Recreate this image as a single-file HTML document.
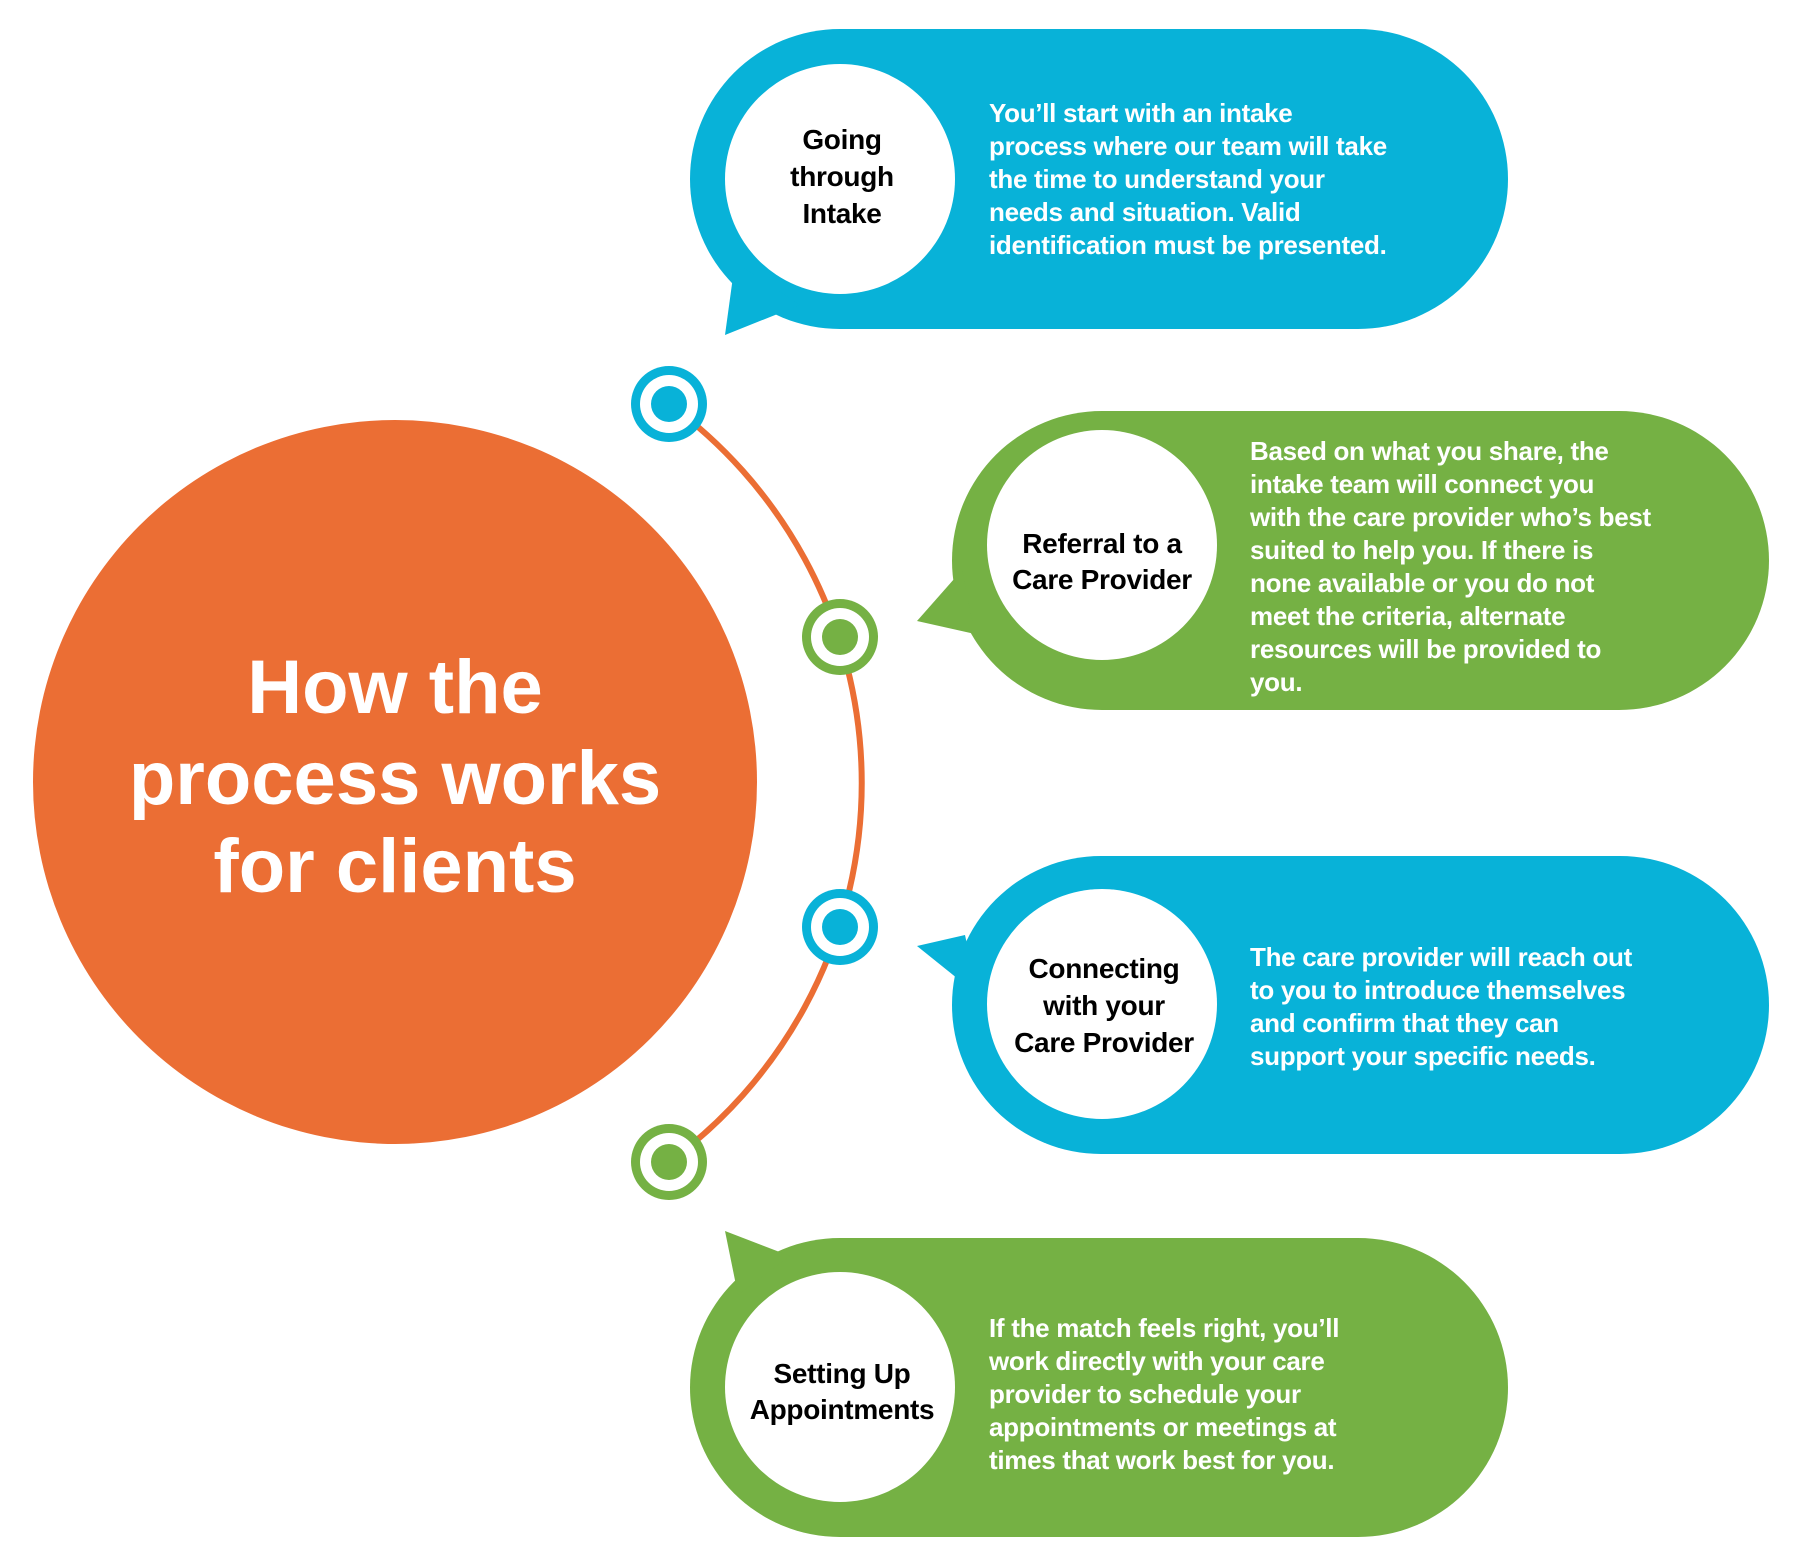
<!DOCTYPE html>
<html><head><meta charset="utf-8"><style>
html,body{margin:0;padding:0;background:#fff}
svg{display:block}
text{font-family:"Liberation Sans",Arial,sans-serif;font-weight:bold}
.d{fill:#fff;font-size:26px;letter-spacing:-0.3px}
.l{fill:#000;font-size:28px;text-anchor:middle;letter-spacing:-0.3px}
</style></head><body>
<svg width="1800" height="1559" viewBox="0 0 1800 1559" xmlns="http://www.w3.org/2000/svg">
<!-- big circle -->
<circle cx="395" cy="782" r="362" fill="#EB6E34"/>
<text x="395" y="713" fill="#fff" font-size="76" text-anchor="middle">How the</text>
<text x="395" y="804" fill="#fff" font-size="76" text-anchor="middle">process works</text>
<text x="395" y="892" fill="#fff" font-size="76" text-anchor="middle">for clients</text>
<!-- arc -->
<path d="M669 404 A469 469 0 0 1 669 1162" fill="none" stroke="#EB6E34" stroke-width="6"/>
<!-- markers -->
<g>
<circle cx="669" cy="404" r="38" fill="#08B2D8"/><circle cx="669" cy="404" r="29" fill="#fff"/><circle cx="669" cy="404" r="18" fill="#08B2D8"/>
<circle cx="840" cy="637" r="38" fill="#75B144"/><circle cx="840" cy="637" r="29" fill="#fff"/><circle cx="840" cy="637" r="18" fill="#75B144"/>
<circle cx="840" cy="927" r="38" fill="#08B2D8"/><circle cx="840" cy="927" r="29" fill="#fff"/><circle cx="840" cy="927" r="18" fill="#08B2D8"/>
<circle cx="669" cy="1162" r="38" fill="#75B144"/><circle cx="669" cy="1162" r="29" fill="#fff"/><circle cx="669" cy="1162" r="18" fill="#75B144"/>
</g>
<!-- bubble 1 -->
<rect x="690" y="29" width="818" height="300" rx="150" fill="#08B2D8"/>
<polygon points="725,335 735,262 800,305" fill="#08B2D8"/>
<circle cx="840" cy="179" r="115" fill="#fff"/>
<text class="l"><tspan x="842" y="149">Going</tspan><tspan x="842" y="186">through</tspan><tspan x="842" y="223">Intake</tspan></text>
<text class="d"><tspan x="989" y="122">You’ll start with an intake</tspan><tspan x="989" y="155">process where our team will take</tspan><tspan x="989" y="188">the time to understand your</tspan><tspan x="989" y="221">needs and situation. Valid</tspan><tspan x="989" y="254">identification must be presented.</tspan></text>
<!-- bubble 2 -->
<rect x="952" y="411" width="817" height="299" rx="150" fill="#75B144"/>
<polygon points="917,621 962,570 975,634" fill="#75B144"/>
<circle cx="1102" cy="545" r="115" fill="#fff"/>
<text class="l"><tspan x="1102" y="553">Referral to a</tspan><tspan x="1102" y="589">Care Provider</tspan></text>
<text class="d"><tspan x="1250" y="460">Based on what you share, the</tspan><tspan x="1250" y="493">intake team will connect you</tspan><tspan x="1250" y="526">with the care provider who’s best</tspan><tspan x="1250" y="559">suited to help you. If there is</tspan><tspan x="1250" y="592">none available or you do not</tspan><tspan x="1250" y="625">meet the criteria, alternate</tspan><tspan x="1250" y="658">resources will be provided to</tspan><tspan x="1250" y="691">you.</tspan></text>
<!-- bubble 3 -->
<rect x="952" y="856" width="817" height="298" rx="149" fill="#08B2D8"/>
<polygon points="917,946 965,935 978,995" fill="#08B2D8"/>
<circle cx="1102" cy="1004" r="115" fill="#fff"/>
<text class="l"><tspan x="1104" y="978">Connecting</tspan><tspan x="1104" y="1015">with your</tspan><tspan x="1104" y="1052">Care Provider</tspan></text>
<text class="d"><tspan x="1250" y="966">The care provider will reach out</tspan><tspan x="1250" y="999">to you to introduce themselves</tspan><tspan x="1250" y="1032">and confirm that they can</tspan><tspan x="1250" y="1065">support your specific needs.</tspan></text>
<!-- bubble 4 -->
<rect x="690" y="1238" width="818" height="299" rx="150" fill="#75B144"/>
<polygon points="725,1231 738,1295 790,1256" fill="#75B144"/>
<circle cx="840" cy="1387" r="115" fill="#fff"/>
<text class="l"><tspan x="842" y="1383">Setting Up</tspan><tspan x="842" y="1419">Appointments</tspan></text>
<text class="d"><tspan x="989" y="1337">If the match feels right, you’ll</tspan><tspan x="989" y="1370">work directly with your care</tspan><tspan x="989" y="1403">provider to schedule your</tspan><tspan x="989" y="1436">appointments or meetings at</tspan><tspan x="989" y="1469">times that work best for you.</tspan></text>
</svg>
</body></html>
